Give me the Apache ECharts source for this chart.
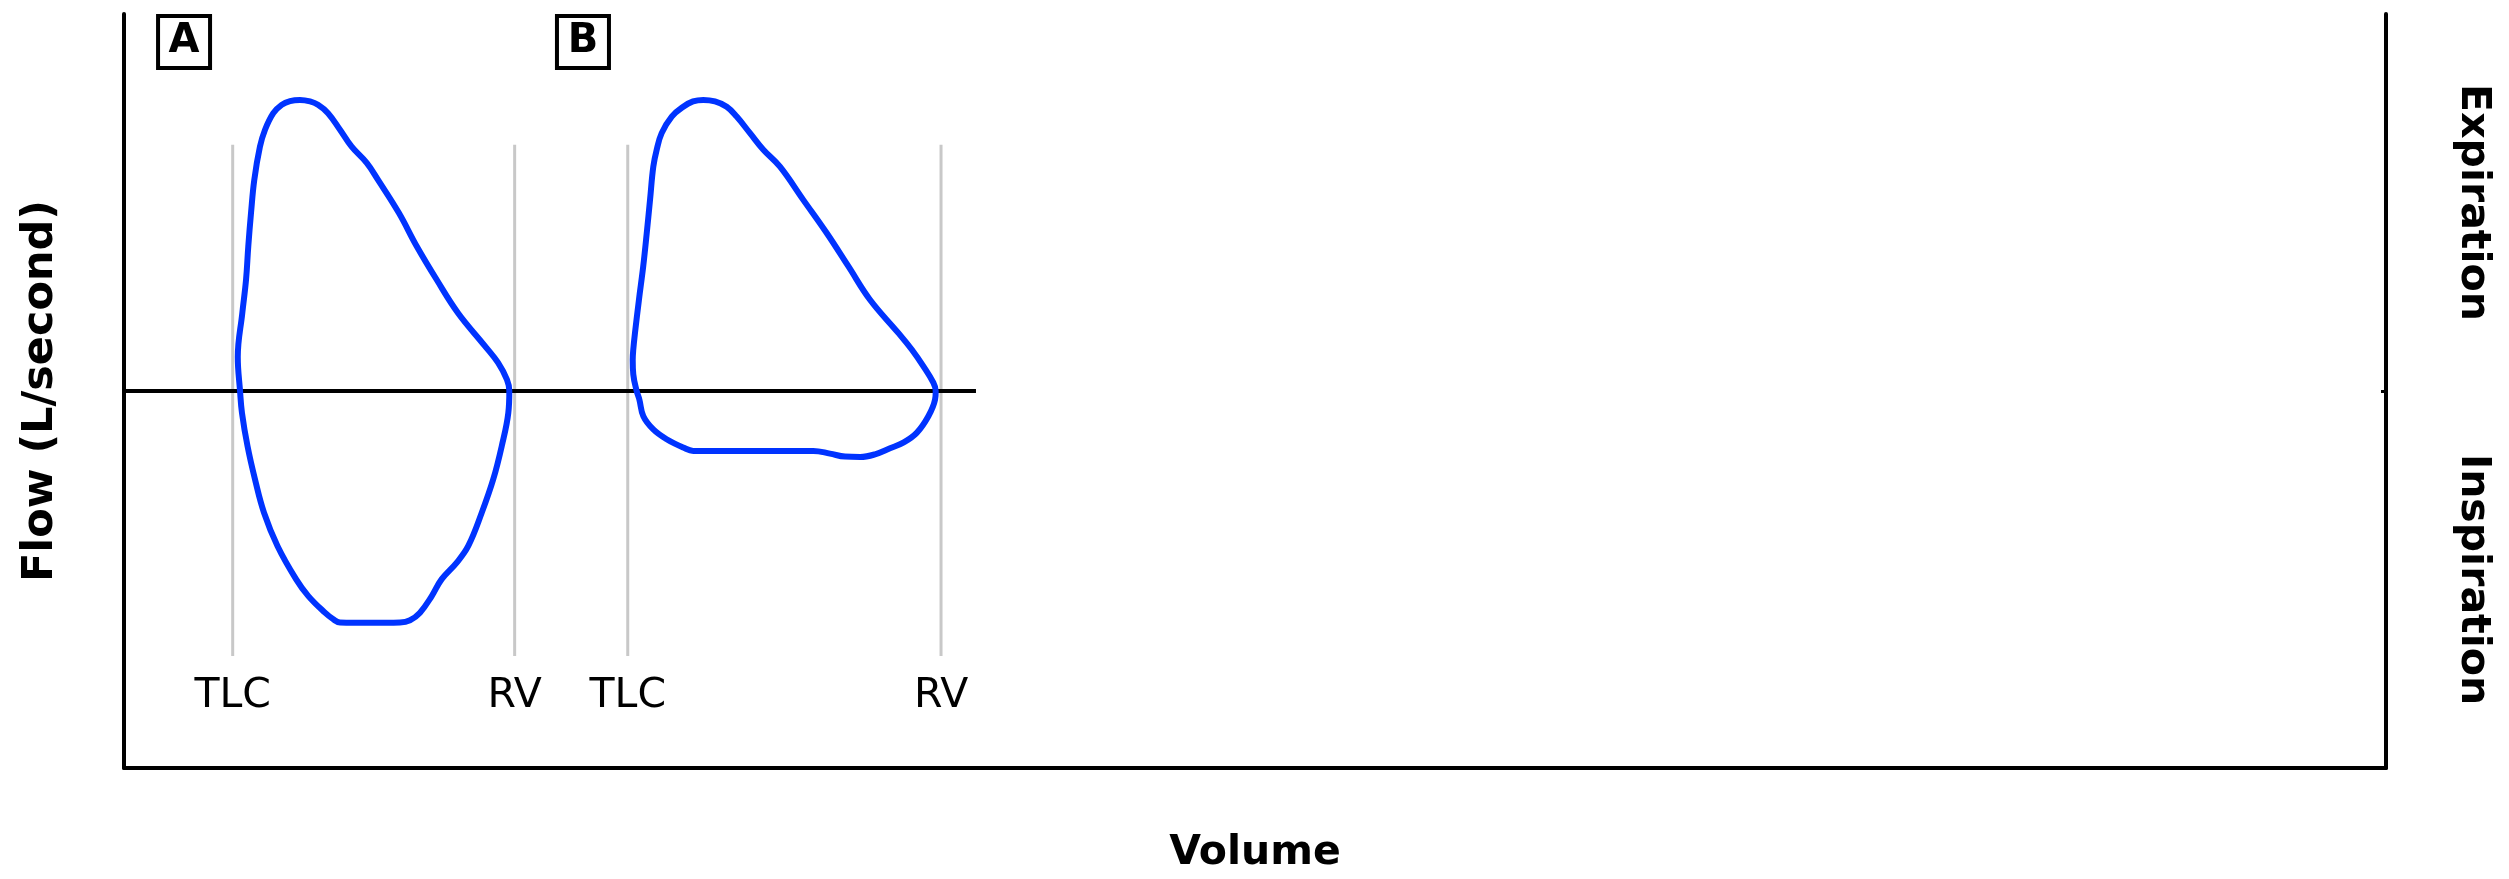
<!DOCTYPE html>
<html>
<head>
<meta charset="utf-8">
<style>
  html, body { margin: 0; padding: 0; background: #fff; }
  #chart { width: 2509px; height: 879px; }
</style>
<script src="https://cdn.jsdelivr.net/npm/echarts@6/dist/echarts.min.js"></script>
</head>
<body>
<div id="chart"></div>
<script>
// ---- Data (volume in arbitrary units, flow in L/second) ----
// Loop A: normal flow-volume loop
const loopAVolume = [2.175,1.910,1.848,1.777,1.630,1.521,1.357,1.238,1.158,1.092,1.043,1.026,1.006,1.046,1.079,1.099,1.123,1.152,1.202,1.247,1.320,1.394,1.468,1.556,1.645,1.715,1.804,1.910,2.013,2.146,2.246,2.431,2.588,2.765,2.953,3.192,3.307,3.386,3.407,3.398,3.340,3.265,3.163,3.044,2.942,2.809,2.721,2.617,2.529,2.440,2.175];
const loopAFlow   = [-6.15,-6.14,-6.05,-5.88,-5.44,-4.99,-4.11,-3.23,-2.34,-1.46,-0.58,0,0.90,2.07,2.95,3.84,4.72,5.60,6.48,6.93,7.37,7.59,7.69,7.72,7.68,7.59,7.37,6.93,6.48,6.05,5.60,4.72,3.84,2.95,2.07,1.19,0.75,0.30,0,-0.58,-1.46,-2.34,-3.23,-4.11,-4.55,-4.99,-5.44,-5.88,-6.08,-6.14,-6.15];
// Loop B: flattened inspiratory limb
const loopBVolume = [5.535,5.034,4.945,4.798,4.680,4.592,4.557,4.533,4.503,4.498,4.503,4.518,4.553,4.591,4.622,4.651,4.680,4.710,4.754,4.843,4.945,5.031,5.122,5.225,5.329,5.417,5.535,5.653,5.800,6.006,6.213,6.404,6.596,6.846,6.965,7.067,7.156,7.177,7.171,7.112,7.009,6.890,6.773,6.640,6.508,6.375,6.242,6.095,5.535];
const loopBFlow   = [-1.59,-1.59,-1.50,-1.28,-1.02,-0.67,-0.23,0,0.44,0.83,1.10,1.54,2.42,3.31,4.19,5.07,5.95,6.40,6.84,7.28,7.54,7.68,7.72,7.68,7.54,7.28,6.84,6.40,5.95,5.07,4.19,3.31,2.42,1.54,1.10,0.66,0.22,0,-0.23,-0.67,-1.11,-1.37,-1.52,-1.68,-1.75,-1.74,-1.66,-1.59,-1.59];

// Reference volumes (TLC / RV) for each panel
const markerLabels  = ['TLC', 'RV', 'TLC', 'RV'];
const markerVolumes = [0.961, 3.454, 4.454, 7.224];
const markerFlowTop = 6.53;
const markerFlowBottom = -7.03;
const markerLabelFlow = -8.11;

// Panel letters
const panelNames   = ['A', 'B'];
const panelVolumes = [0.531, 4.058];
const panelFlow    = 9.26;

// Zero-flow line extent
const zeroLineVolumes = [0, 7.533];

// Axis ranges
const volumeRange = [0, 20];
const flowRange = [-10, 10];
const sideLabels = { '5': 'Expiration', '-5': 'Inspiration' };

// ---- Build ----
const FONT = 'DejaVu Sans';
const BLUE = '#0033ff';

const zip = (xs, ys) => xs.map((x, i) => [x, ys[i]]);

const markerSeries = markerVolumes.map((v) => ({
  type: 'line',
  data: [[v, markerFlowTop], [v, markerFlowBottom]],
  showSymbol: false,
  silent: true,
  lineStyle: { color: '#c8c8c8', width: 3 },
  z: 1
}));

const option = {
  animation: false,
  backgroundColor: '#fff',
  grid: { left: 124, right: 123, top: 14, bottom: 110, containLabel: false },
  xAxis: {
    type: 'value',
    min: volumeRange[0], max: volumeRange[1],
    axisLine: { show: true, onZero: false, lineStyle: { color: '#000', width: 4 } },
    axisTick: { show: false },
    axisLabel: { show: false },
    splitLine: { show: false },
    name: 'Volume',
    nameLocation: 'middle',
    nameGap: 65,
    nameTextStyle: { fontFamily: FONT, fontWeight: 'bold', fontSize: 41, color: '#000' }
  },
  yAxis: [
    {
      type: 'value',
      min: flowRange[0], max: flowRange[1],
      position: 'left',
      axisLine: { show: true, onZero: false, lineStyle: { color: '#000', width: 4 } },
      axisTick: { show: false },
      axisLabel: { show: false },
      splitLine: { show: false },
      name: 'Flow (L/second)',
      nameLocation: 'middle',
      nameRotate: 90,
      nameGap: 62,
      nameTextStyle: { fontFamily: FONT, fontWeight: 'bold', fontSize: 43, color: '#000' }
    },
    {
      type: 'value',
      min: flowRange[0], max: flowRange[1], interval: 5,
      position: 'right',
      axisLine: { show: true, onZero: false, lineStyle: { color: '#000', width: 4 } },
      axisTick: { show: true, inside: true, length: 5, customValues: [0], lineStyle: { color: '#000', width: 3 } },
      axisLabel: {
        show: true,
        rotate: -90,
        margin: 66,
        fontFamily: FONT, fontWeight: 'bold', fontSize: 41, color: '#000',
        formatter: (v) => sideLabels[String(v)] || ''
      },
      splitLine: { show: false }
    }
  ],
  series: [
    ...markerSeries,
    {
      type: 'line',
      data: zip(zeroLineVolumes, [0, 0]),
      showSymbol: false,
      silent: true,
      lineStyle: { color: '#000', width: 4 },
      z: 2
    },
    {
      type: 'line',
      name: 'A',
      data: zip(loopAVolume, loopAFlow),
      smooth: 0.4,
      showSymbol: false,
      lineStyle: { color: BLUE, width: 6 },
      z: 3
    },
    {
      type: 'line',
      name: 'B',
      data: zip(loopBVolume, loopBFlow),
      smooth: 0.4,
      showSymbol: false,
      lineStyle: { color: BLUE, width: 6 },
      z: 3
    },
    {
      type: 'scatter',
      data: markerVolumes.map((v, i) => ({ value: [v, markerLabelFlow], name: markerLabels[i] })),
      symbolSize: 0,
      silent: true,
      label: {
        show: true,
        position: 'inside',
        formatter: (p) => p.name,
        fontFamily: FONT, fontSize: 41, color: '#000', opacity: 1
      },
      z: 4
    },
    {
      type: 'scatter',
      data: panelVolumes.map((v, i) => ({ value: [v, panelFlow], name: panelNames[i] })),
      symbol: 'rect',
      symbolSize: 52,
      silent: true,
      itemStyle: { color: '#fff', borderColor: '#000', borderWidth: 4, opacity: 1 },
      label: {
        show: true,
        position: 'inside',
        formatter: (p) => p.name,
        fontFamily: FONT, fontWeight: 'bold', fontSize: 40, color: '#000'
      },
      z: 4
    }
  ]
};

const chart = echarts.init(document.getElementById('chart'), null, { renderer: 'canvas' });
chart.setOption(option);
</script>
</body>
</html>
